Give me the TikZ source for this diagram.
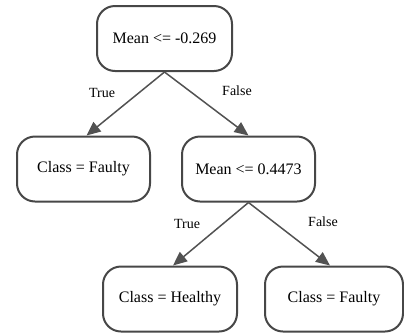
\documentclass[tikz,border=0pt]{standalone}
\usepackage{fontspec}
\setmainfont{Liberation Serif}
\usetikzlibrary{arrows.meta}
\begin{document}
\begin{tikzpicture}[x=1pt,y=-1pt,
  treebox/.style={draw=black!72, line width=2pt, rounded corners=18pt, fill=white,
    minimum height=65pt, inner sep=0pt, font=\fontsize{16}{18}\selectfont},
  edgelbl/.style={font=\fontsize{14}{16}\selectfont, inner sep=0pt},
  conn/.style={draw=black!68, line width=1.5pt, -{Triangle[length=14pt,width=12pt]}}]
\useasboundingbox (0,0) rectangle (404,333);
\node[treebox, minimum width=135pt] (root) at (164.5,38.5) {Mean <= -0.269};
\node[treebox, minimum width=133pt] (lf) at (83.5,169) {Class = Faulty};
\node[treebox, minimum width=133pt] (m2) at (248.5,169) {Mean <= 0.4473};
\node[treebox, minimum width=134pt] (h) at (170,299) {Class = Healthy};
\node[treebox, minimum width=138pt] (rf) at (334,299) {Class = Faulty};
\draw[conn] (root.south) -- ([xshift=3pt]lf.north);
\draw[conn] (root.south) -- (m2.north);
\draw[conn] (m2.south) -- ([xshift=3pt]h.north);
\draw[conn] (m2.south) -- ([xshift=-4pt]rf.north);
\node[edgelbl] (t1) at (102,93) {True};
\node[edgelbl] (f1) at (237,91) {False};
\node[edgelbl] (t2) at (187,224) {True};
\node[edgelbl] (f2) at (323,222) {False};
\end{tikzpicture}
\end{document}
